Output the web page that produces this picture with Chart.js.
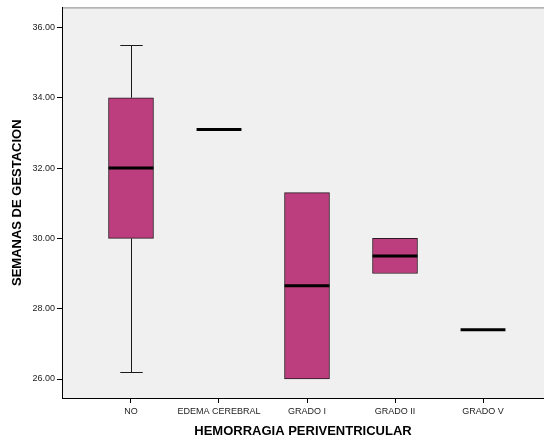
<!DOCTYPE html>
<html>
<head>
<meta charset="utf-8">
<script src="https://cdn.jsdelivr.net/npm/chart.js@4.4.1/dist/chart.umd.min.js"></script>
<style>
html,body{margin:0;padding:0;background:#fff;}
#wrap{width:544px;height:442px;position:relative;}
</style>
</head>
<body>
<div id="wrap"><canvas id="c" width="544" height="442"></canvas></div>
<script>
const categories = ['NO', 'EDEMA CEREBRAL', 'GRADO I', 'GRADO II', 'GRADO V'];
const whiskerLow  = [26.2, 33.1, 26.0, 29.0, 27.4];
const q1          = [30.0, 33.1, 26.0, 29.0, 27.4];
const median      = [32.0, 33.1, 28.65, 29.5, 27.4];
const q3          = [34.0, 33.1, 31.3, 30.0, 27.4];
const whiskerHigh = [35.5, 33.1, 31.3, 30.0, 27.4];
const yTicks = [26, 28, 30, 32, 34, 36];

const boxData = categories
  .map((c, i) => ({x: i, y: [q1[i], q3[i]]}))
  .filter(d => d.y[1] > d.y[0]);

const boxPlugin = {
  id: 'boxExtras',
  beforeDraw(chart) {
    const {ctx, chartArea: a} = chart;
    ctx.save();
    ctx.fillStyle = '#F0F0F0';
    ctx.fillRect(a.left, a.top, a.right - a.left, a.bottom - a.top);
    ctx.strokeStyle = '#888';
    ctx.lineWidth = 1;
    ctx.beginPath();
    ctx.moveTo(a.left, a.top + 0.5);
    ctx.lineTo(a.right, a.top + 0.5);
    ctx.stroke();
    ctx.restore();
  },
  beforeDatasetsDraw(chart) {
    const {ctx} = chart;
    const xs = chart.scales.x, ys = chart.scales.y;
    const half = (xs.getPixelForValue(1) - xs.getPixelForValue(0)) * 0.255;
    const cap = half / 2;
    ctx.save();
    ctx.strokeStyle = '#1a1a1a';
    ctx.lineWidth = 1;
    categories.forEach((c, i) => {
      const x = Math.round(xs.getPixelForValue(i)) + 0.5;
      if (whiskerHigh[i] > q3[i]) {
        const yh = Math.round(ys.getPixelForValue(whiskerHigh[i])) + 0.5;
        const yb = ys.getPixelForValue(q3[i]);
        ctx.beginPath();
        ctx.moveTo(x, yh); ctx.lineTo(x, yb);
        ctx.moveTo(x - cap, yh); ctx.lineTo(x + cap, yh);
        ctx.stroke();
      }
      if (whiskerLow[i] < q1[i]) {
        const yl = Math.round(ys.getPixelForValue(whiskerLow[i])) + 0.5;
        const yb = ys.getPixelForValue(q1[i]);
        ctx.beginPath();
        ctx.moveTo(x, yl); ctx.lineTo(x, yb);
        ctx.moveTo(x - cap, yl); ctx.lineTo(x + cap, yl);
        ctx.stroke();
      }
    });
    ctx.restore();
  },
  afterDatasetsDraw(chart) {
    const {ctx} = chart;
    const xs = chart.scales.x, ys = chart.scales.y;
    const half = (xs.getPixelForValue(1) - xs.getPixelForValue(0)) * 0.255;
    ctx.save();
    ctx.strokeStyle = '#000';
    ctx.lineWidth = 3;
    categories.forEach((c, i) => {
      const x = xs.getPixelForValue(i);
      const y = ys.getPixelForValue(median[i]);
      ctx.beginPath();
      ctx.moveTo(x - half, y); ctx.lineTo(x + half, y);
      ctx.stroke();
    });
    ctx.restore();
  }
};

new Chart(document.getElementById('c'), {
  type: 'bar',
  data: {
    datasets: [{
      data: boxData,
      backgroundColor: '#BC3E7E',
      borderColor: '#2a1a22',
      borderWidth: 1,
      borderSkipped: false,
      barThickness: 45
    }]
  },
  options: {
    responsive: false,
    animation: false,
    devicePixelRatio: 1,
    layout: {padding: {left: 0, top: 7, right: 0, bottom: 0}},
    plugins: {legend: {display: false}, tooltip: {enabled: false}},
    scales: {
      x: {
        type: 'linear',
        offset: false,
        min: -0.784,
        max: 4.693,
        afterBuildTicks(s) { s.ticks = categories.map((c, i) => ({value: i})); },
        afterFit(s) { s.height = 44; },
        ticks: {
          callback: (v) => categories[v],
          font: {family: 'Arial', size: 9},
          color: '#222',
          padding: 3,
          maxRotation: 0,
          autoSkip: false
        },
        grid: {offset: false, drawOnChartArea: false, drawTicks: true, tickLength: 5, color: '#000'},
        border: {display: true, color: '#000', width: 1},
        title: {
          display: true,
          text: 'HEMORRAGIA PERIVENTRICULAR',
          font: {family: 'Arial', size: 13, weight: 'bold'},
          color: '#000',
          padding: {top: 0, bottom: 3}
        }
      },
      y: {
        type: 'linear',
        min: 25.46,
        max: 36.57,
        afterBuildTicks(s) { s.ticks = yTicks.map(v => ({value: v})); },
        afterFit(s) { s.width = 62; },
        ticks: {
          callback: (v) => Number(v).toFixed(2),
          font: {family: 'Arial', size: 9},
          color: '#222',
          padding: 2
        },
        grid: {drawOnChartArea: false, drawTicks: true, tickLength: 5, color: '#000'},
        border: {display: true, color: '#000', width: 1},
        title: {
          display: true,
          text: 'SEMANAS DE GESTACION',
          font: {family: 'Arial', size: 13, weight: 'bold'},
          color: '#000',
          padding: {top: 10, bottom: 0}
        }
      }
    }
  },
  plugins: [boxPlugin]
});
</script>
</body>
</html>
